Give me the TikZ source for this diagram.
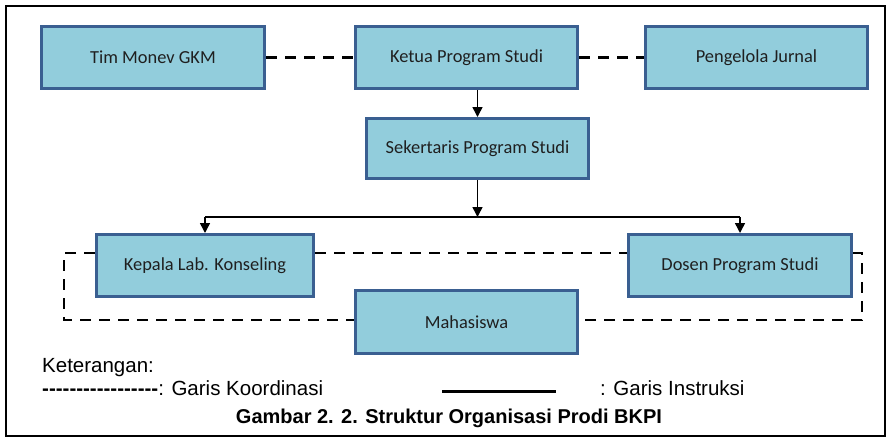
\documentclass[tikz,border=0pt]{standalone}
\usepackage{fontspec}
\setmainfont{Liberation Sans}
\newfontfamily\boxfont{Carlito}
\usetikzlibrary{arrows.meta}
\definecolor{boxfill}{HTML}{92CDDC}
\definecolor{boxline}{HTML}{3A5F91}
\tikzset{
  unit/.style={draw=boxline, line width=3pt, fill=boxfill, minimum width=223pt, minimum height=62pt,
    font=\boxfont\fontsize{18.4}{20}\selectfont, text=black!88},
  koord/.style={line width=2.6pt, dash pattern=on 11pt off 8pt},
  instr/.style={line width=1.5pt, -{Triangle[length=10pt,width=10pt]}},
  legend/.style={anchor=base west, inner sep=0pt, font=\fontsize{20.5}{22}\selectfont}
}
\begin{document}
\begin{tikzpicture}[x=1pt, y=-1pt]
\useasboundingbox (0,0) rectangle (891,440);
\draw[line width=2pt] (6,6) rectangle (885,436);
% jabatan
\node[unit] (tim) at (153,57.5) {Tim Monev GKM};
\node[unit, minimum width=222pt] (ketua) at (466.5,57.5) {Ketua Program Studi};
\node[unit, minimum width=222pt] (jurnal) at (756.5,57.5) {Pengelola Jurnal};
\node[unit, minimum width=222pt, minimum height=60pt] (sekretaris) at (477.5,148.5) {Sekertaris Program Studi};
\node[unit, minimum width=217pt] (kepala) at (205,265.5) {Kepala Lab. Konseling};
\node[unit] (dosen) at (740,265.5) {Dosen Program Studi};
\node[unit, minimum width=222pt, minimum height=63pt] (mhs) at (466.5,322) {Mahasiswa};
% garis koordinasi
\draw[koord] (tim) -- (ketua);
\draw[koord] (ketua) -- (jurnal);
\coordinate (loopL) at (64,320);
\coordinate (loopR) at (862,320);
\draw[koord] (kepala.west |- 0,253) -| (loopL) -- (mhs.west |- loopL);
\draw[koord] (kepala.east |- 0,253) -- (dosen.west |- 0,253);
\draw[koord] (dosen.east |- 0,253) -| (loopR) -- (mhs.east |- loopR);
% garis instruksi
\coordinate (split) at (sekretaris.south |- 0,217);
\draw[instr] (sekretaris.north |- ketua.south) -- (sekretaris.north);
\draw[instr] (sekretaris.south) -- (split);
\draw[line width=1.5pt] (kepala.north |- split) -- (dosen.north |- split);
\draw[instr] (kepala.north |- split) -- (kepala.north);
\draw[instr] (dosen.north |- split) -- (dosen.north);
% keterangan
\node[legend] (ket) at (42,372) {Keterangan:};
\node[legend] (koordinasi) at (42,395) {\textbf{-{}-{}-{}-{}-{}-{}-{}-{}-{}-{}-{}-{}-{}-{}-{}-{}-{}}: Garis Koordinasi};
\coordinate (solidA) at (442,391);
\coordinate (solidB) at (556,391);
\draw[line width=3pt] (solidA) -- (solidB);
\node[legend] (instruksi) at (600,395) {: Garis Instruksi};
\node[anchor=base, inner sep=0pt, font=\bfseries\fontsize{20}{22}\selectfont] (caption) at (449,423) {Gambar 2. 2. Struktur Organisasi Prodi BKPI};
\end{tikzpicture}
\end{document}
